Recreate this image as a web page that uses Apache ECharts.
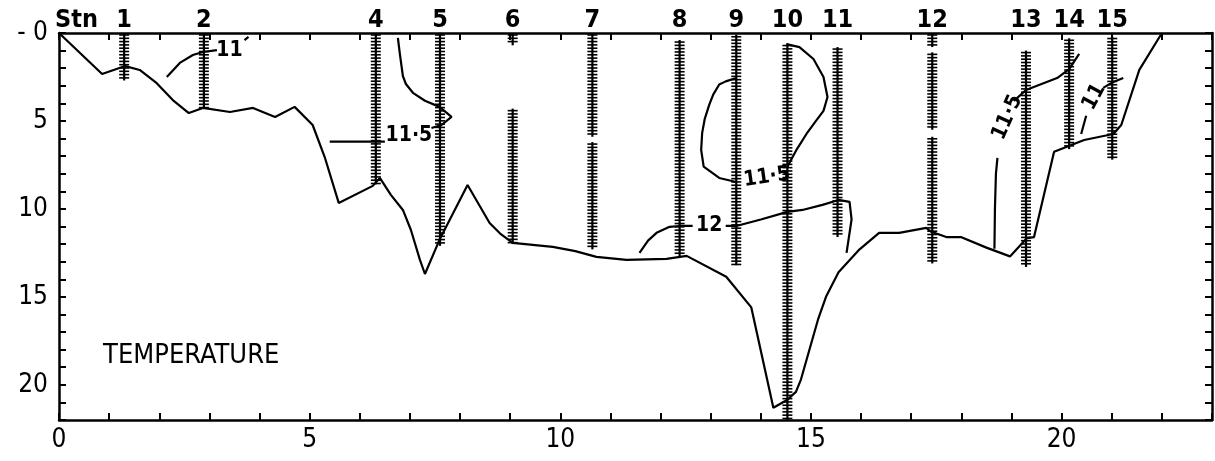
<!DOCTYPE html>
<html>
<head>
<meta charset="utf-8">
<script src="https://cdn.jsdelivr.net/npm/echarts@6/dist/echarts.min.js"></script>
<style>
html,body{margin:0;padding:0;background:#fff;}
#chart{width:1215px;height:461px;}
</style>
</head>
<body>
<div id="chart"></div>
<script>
// ---- data ----
const xTickLabels = [0, 5, 10, 15, 20];
const yTickLabels = [0, 5, 10, 15, 20];

const stationNames = ['1','2','4','5','6','7','8','9','10','11','12','13','14','15'];
const stationX = [1.30, 2.89, 6.32, 7.60, 9.05, 10.64, 12.38, 13.51, 14.53, 15.53, 17.42, 19.29, 20.15, 21.01];
// sampled depth ranges [top, bottom] per station
const stationCasts = [
  [[0, 2.7]],
  [[0, 4.3]],
  [[0, 8.6]],
  [[0, 12.1]],
  [[0, 0.7], [4.3, 12.0]],
  [[0, 5.9], [6.2, 12.3]],
  [[0.4, 12.7]],
  [[0.1, 13.2]],
  [[0.6, 22]],
  [[0.8, 11.6]],
  [[0, 0.8], [1.1, 5.5], [5.9, 13.1]],
  [[1.0, 13.3]],
  [[0.3, 6.6]],
  [[0.2, 7.2]]
];

// sea bottom profile [distance, depth]
const bottomProfile = [
  [0,0],[0.86,2.33],[1.32,1.88],[1.61,2.1],[1.95,2.85],[2.27,3.81],[2.59,4.55],[2.87,4.26],
  [3.41,4.49],[3.87,4.26],[4.31,4.77],[4.70,4.2],[5.06,5.23],[5.30,7.05],[5.58,9.66],
  [6.26,8.69],[6.40,8.24],[6.62,9.2],[6.86,10.06],[7.02,11.2],[7.2,12.9],[7.30,13.7],
  [7.59,11.76],[8.15,8.64],[8.59,10.8],[8.8,11.4],[9.05,11.93],[9.85,12.16],[10.3,12.4],[10.72,12.73],
  [11.32,12.9],[12.12,12.84],[12.52,12.67],[13.31,13.86],[13.81,15.6],[14.25,21.3],
  [14.53,20.85],[14.7,20.4],[14.8,19.7],[15.14,16.3],[15.3,15.0],[15.55,13.6],
  [15.97,12.3],[16.36,11.36],[16.76,11.36],[17.3,11.08],[17.4,11.3],[17.7,11.6],
  [17.99,11.6],[18.5,12.2],[18.97,12.7],[19.31,11.66],[19.45,11.6],[19.85,6.75],
  [20.45,6.08],[21.03,5.74],[21.19,5.23],[21.55,2.1],[21.98,0.1]
];

// isotherm pieces
const iso11a = [[2.15,2.5],[2.41,1.7],[2.67,1.25],[2.87,1.08],[3.15,0.97]];
const iso11aTail = [[3.70,0.40],[3.78,0.22]];
const iso115aLeft = [[5.4,6.18],[6.5,6.18]];
const iso115aRight = [[7.43,5.4],[7.63,5.23],[7.83,4.77],[7.59,4.2],[7.3,3.85],[7.06,3.4],[6.92,2.9],[6.86,2.45],[6.80,1.2],[6.76,0.28]];
const iso115bLeft = [[13.51,2.56],[13.3,2.75],[13.17,2.93],[13.05,3.5],[12.97,4.09],[12.88,4.9],[12.83,5.68],[12.81,6.65],[12.86,7.6],[13.17,8.24],[13.51,8.47]];
const iso115bRight = [[14.53,7.6],[14.72,6.6],[14.91,5.74],[15.1,5.0],[15.25,4.43],[15.33,3.64],[15.25,2.5],[15.05,1.48],[14.77,0.8],[14.51,0.63]];
const iso12Left = [[11.58,12.5],[11.75,11.8],[11.92,11.36],[12.18,11.02],[12.38,10.97],[12.64,10.97]];
const iso12Right = [[13.3,10.97],[13.51,10.97],[14.0,10.6],[14.53,10.17],[14.83,10.06],[15.23,9.77],[15.55,9.49],[15.77,9.6],[15.81,10.6],[15.71,12.5]];
const iso115cLow = [[18.66,12.27],[18.67,10.0],[18.69,8.0],[18.72,7.1]];
const iso115cHigh = [[19.05,3.86],[19.29,3.24],[19.6,2.9],[19.91,2.56],[20.15,2.05],[20.35,1.19]];
const iso11bLow = [[20.39,5.74],[20.49,4.7]];
const iso11bHigh = [[20.83,3.12],[21.03,2.78],[21.23,2.56]];

const isoLabelText = ['11', '11·5', '11·5', '12', '11·5', '11'];
const isoLabelX = [3.40, 6.98, 14.12, 12.97, 18.92, 20.65];
const isoLabelY = [0.97, 5.85, 8.2, 10.95, 4.8, 3.64];
const isoLabelRotate = [0, 0, 8, 0, 66, 62];

const panelTitle = 'TEMPERATURE';
const panelTitlePos = [0.88, 18.35];
const stnHeading = 'Stn';

// ---- chart ----
const FONT = '"DejaVu Sans Condensed", "Liberation Sans Narrow", "DejaVu Sans", sans-serif';
const chart = echarts.init(document.getElementById('chart'), null, {renderer: 'canvas'});

const castData = [];
stationCasts.forEach((segs, i) => segs.forEach(s => castData.push([stationX[i], s[0], s[1]])));

function lineSeries(data) {
  return {
    type: 'line', data: data, symbol: 'none', xAxisIndex: 0, yAxisIndex: 0,
    lineStyle: {color: '#000', width: 2.2}, silent: true, z: 3, clip: false
  };
}

function textSeries(data, label, z) {
  return {
    type: 'scatter', xAxisIndex: 0, yAxisIndex: 0, symbolSize: 0, z: z, silent: true,
    itemStyle: {opacity: 1, color: '#000'},
    data: data,
    label: Object.assign({show: true, color: '#000', opacity: 1, fontFamily: FONT,
      formatter: p => p.name}, label)
  };
}

const axisCommon = {
  type: 'value', interval: 1, splitLine: {show: false},
  axisLine: {show: true, onZero: false, lineStyle: {color: '#000', width: 2.5}},
  axisTick: {show: true, inside: true, length: 7, lineStyle: {color: '#000', width: 2}}
};

const option = {
  animation: false,
  backgroundColor: '#fff',
  grid: {left: 59, right: 3, top: 33, bottom: 41, containLabel: false},
  xAxis: [
    Object.assign({}, axisCommon, {
      position: 'bottom', min: 0, max: 23,
      axisLabel: {
        color: '#000', fontSize: 26, fontFamily: FONT, margin: 7,
        formatter: v => xTickLabels.indexOf(v) >= 0 ? String(v) : ''
      }
    }),
    Object.assign({}, axisCommon, {
      position: 'top', min: 0, max: 23, axisLabel: {show: false}
    })
  ],
  yAxis: [
    Object.assign({}, axisCommon, {
      position: 'left', inverse: true, min: 0, max: 22,
      axisLabel: {
        color: '#000', fontSize: 26, fontFamily: FONT, margin: 11,
        formatter: v => yTickLabels.indexOf(v) >= 0 ? (v === 0 ? '- 0' : String(v)) : ''
      }
    }),
    Object.assign({}, axisCommon, {
      position: 'right', inverse: true, min: 0, max: 22, axisLabel: {show: false}
    })
  ],
  series: [
    lineSeries(bottomProfile),
    lineSeries(iso11a), lineSeries(iso11aTail),
    lineSeries(iso115aLeft), lineSeries(iso115aRight),
    lineSeries(iso115bLeft), lineSeries(iso115bRight),
    lineSeries(iso12Left), lineSeries(iso12Right),
    lineSeries(iso115cLow), lineSeries(iso115cHigh),
    lineSeries(iso11bLow), lineSeries(iso11bHigh),
    {
      type: 'custom', xAxisIndex: 0, yAxisIndex: 0, clip: false, z: 4,
      data: castData,
      encode: {x: 0, y: [1, 2]},
      renderItem: function (params, api) {
        const x = api.value(0), t = api.value(1), b = api.value(2);
        const p1 = api.coord([x, t]), p2 = api.coord([x, b]);
        const children = [{
          type: 'line', shape: {x1: p1[0], y1: p1[1], x2: p2[0], y2: p2[1]},
          style: {stroke: '#000', lineWidth: 2.2}
        }];
        for (let y = p1[1] + 2; y <= p2[1] - 0.5; y += 3.3) {
          children.push({
            type: 'line', shape: {x1: p1[0] - 5, y1: y, x2: p1[0] + 5, y2: y},
            style: {stroke: '#000', lineWidth: 1.6}
          });
        }
        return {type: 'group', children: children};
      }
    },
    textSeries(stationX.map((x, i) => ({value: [x, 0], name: stationNames[i]})),
      {position: 'top', distance: 0, fontWeight: 'bold', fontSize: 25}, 5),
    textSeries([{value: [0, 0], name: stnHeading}],
      {position: 'top', align: 'left', distance: 0, offset: [-4, 0], fontWeight: 'bold', fontSize: 25}, 5),
    textSeries(isoLabelX.map((x, i) => ({
        value: [x, isoLabelY[i]], name: isoLabelText[i], label: {rotate: isoLabelRotate[i]}
      })),
      {position: 'inside', fontWeight: 'bold', fontSize: 21}, 6),
    textSeries([{value: panelTitlePos, name: panelTitle}],
      {position: 'right', distance: 0, fontSize: 27}, 6)
  ]
};
chart.setOption(option);
</script>
</body>
</html>
